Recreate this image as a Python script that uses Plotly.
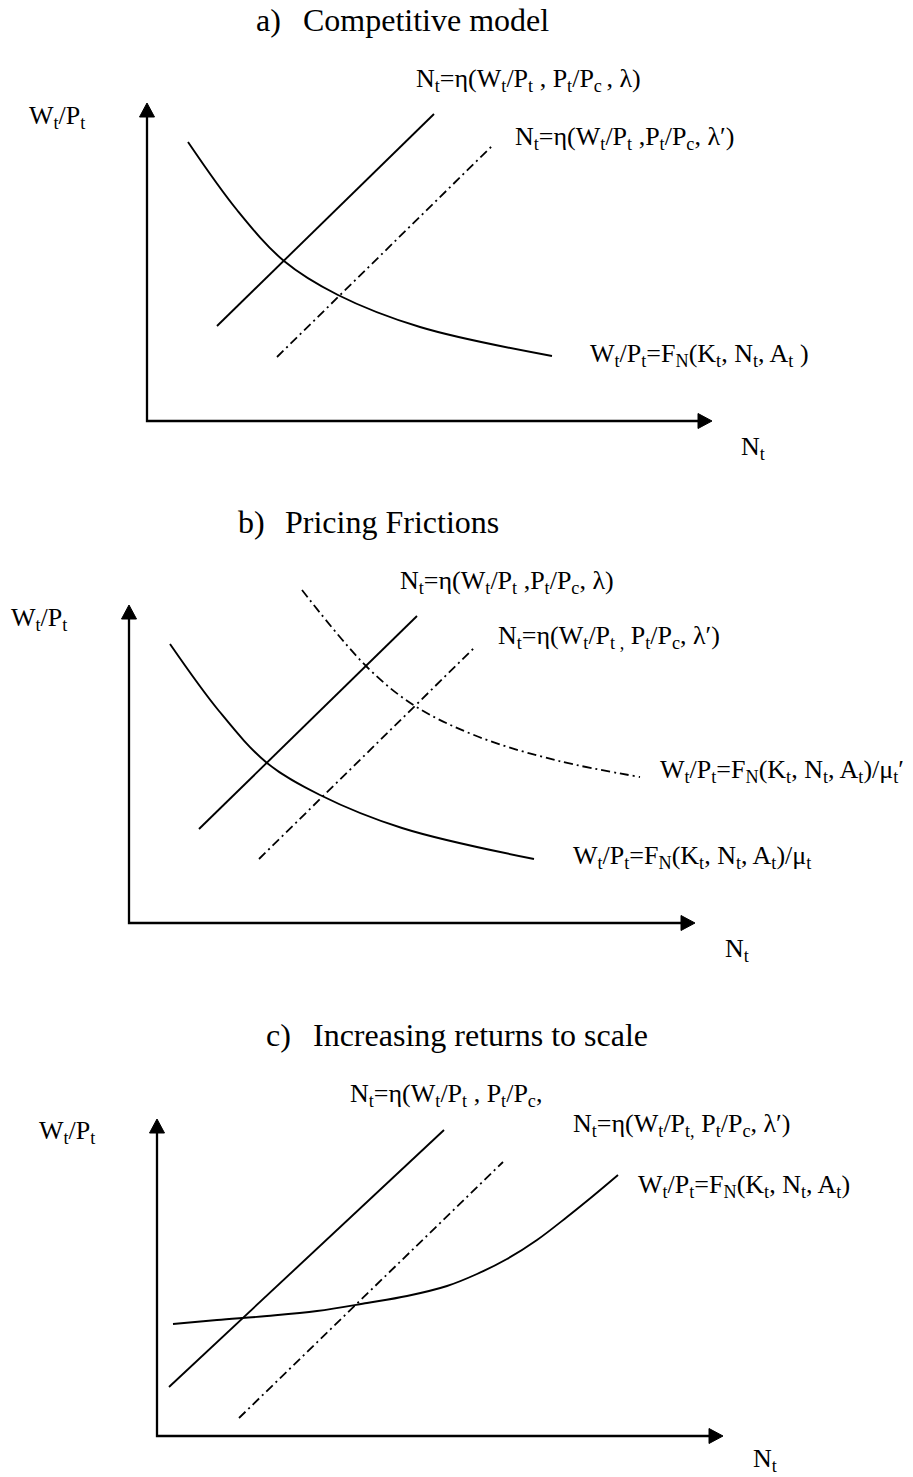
import plotly.graph_objects as go

# ---------------- data (panel-relative units: N to the right, W upward, origin at axis corner) -------------
# Panel a) Competitive model
A_FN_N = [41, 90, 137, 191, 273, 405]
A_FN_W = [279, 211, 160, 126, 94, 65]
A_ETA_N = [70, 287]
A_ETA_W = [95, 307]
A_ETA2_N = [130, 346]
A_ETA2_W = [64, 276]

# Panel b) Pricing Frictions
B_FN_N = [41, 90, 138, 191, 273, 405]
B_FN_W = [279, 212, 160, 128, 95, 64]
B_MU2_N = [173, 238, 286, 350, 430, 511]
B_MU2_W = [333, 256, 217, 186, 162, 146]
B_ETA_N = [70, 288]
B_ETA_W = [94, 307]
B_ETA2_N = [130, 346]
B_ETA2_W = [64, 276]

# Panel c) Increasing returns to scale
C_FN_N = [16, 60, 110, 160, 210, 250, 290, 320, 350, 380, 410, 436, 461]
C_FN_W = [112, 116, 120, 125, 133, 140, 150, 162, 177, 196, 219, 240, 261]
C_ETA_N = [12, 287]
C_ETA_W = [49, 306]
C_ETA2_N = [82, 346]
C_ETA2_W = [18, 274]

# axis extents (N tip, W tip)
AXIS_TIP_N = [565, 566, 566]
AXIS_TIP_W = [318, 318, 317]

# text
TITLE_TAGS = ["a)", "b)", "c)"]
TITLES = ["Competitive model", "Pricing Frictions", "Increasing returns to scale"]
Y_LABEL = "W<sub>t</sub>/P<sub>t</sub>"
X_LABEL = "N<sub>t</sub>"
A_LABELS = [
    "N<sub>t</sub>=η(W<sub>t</sub>/P<sub>t</sub> , P<sub>t</sub>/P<sub>c </sub>, λ)",
    "N<sub>t</sub>=η(W<sub>t</sub>/P<sub>t</sub> ,P<sub>t</sub>/P<sub>c</sub>, λ′)",
    "W<sub>t</sub>/P<sub>t</sub>=F<sub>N</sub>(K<sub>t</sub>, N<sub>t</sub>, A<sub>t</sub> )",
]
B_LABELS = [
    "N<sub>t</sub>=η(W<sub>t</sub>/P<sub>t</sub> ,P<sub>t</sub>/P<sub>c</sub>, λ)",
    "N<sub>t</sub>=η(W<sub>t</sub>/P<sub>t ,</sub> P<sub>t</sub>/P<sub>c</sub>, λ′)",
    "W<sub>t</sub>/P<sub>t</sub>=F<sub>N</sub>(K<sub>t</sub>, N<sub>t</sub>, A<sub>t</sub>)/μ<sub>t</sub>′",
    "W<sub>t</sub>/P<sub>t</sub>=F<sub>N</sub>(K<sub>t</sub>, N<sub>t</sub>, A<sub>t</sub>)/μ<sub>t</sub>",
]
C_LABELS = [
    "N<sub>t</sub>=η(W<sub>t</sub>/P<sub>t</sub> , P<sub>t</sub>/P<sub>c</sub>,",
    "N<sub>t</sub>=η(W<sub>t</sub>/P<sub>t,</sub> P<sub>t</sub>/P<sub>c</sub>, λ′)",
    "W<sub>t</sub>/P<sub>t</sub>=F<sub>N</sub>(K<sub>t</sub>, N<sub>t</sub>, A<sub>t</sub>)",
]
# label anchor positions (N, W) in panel units
A_LABEL_POS = [(268, 341), (367, 283), (442, 66)]
B_LABEL_POS = [(270, 341), (368, 286), (530, 152), (443, 66)]
C_LABEL_POS = [(192, 341), (415, 311), (480, 250)]
Y_LABEL_POS = (-119, 304)
X_LABEL_POS = [(593, -27), (595, -27), (595, -24)]

# ---------------- layout geometry ----------------
W_PX, H_PX = 913, 1477
ORIGINS = [(147, 421), (129, 923), (157, 1436)]   # pixel position of axis corner
BANDS = [(0, 470), (470, 975), (975, 1477)]       # vertical pixel band of each panel
FONT = "Liberation Serif"
LABEL_SIZE = 26
TITLE_SIZE = 32
LW = 1.9
AXW = 2.3
DW = 1.8
DASHDOT = "9px,4px,2px,4px"
HEAD_L, HEAD_W = 14, 15

fig = go.Figure()
layout = dict(width=W_PX, height=H_PX, margin=dict(l=0, r=0, t=0, b=0),
              paper_bgcolor="white", plot_bgcolor="white", showlegend=False,
              annotations=[])

def ax_names(i):
    s = "" if i == 0 else str(i + 1)
    return "x" + s, "y" + s, "xaxis" + s, "yaxis" + s

def line(i, xs, ys, dash=None, shape="linear", width=LW):
    xr, yr, _, _ = ax_names(i)
    fig.add_trace(go.Scatter(x=xs, y=ys, mode="lines", xaxis=xr, yaxis=yr,
                             line=dict(color="black", width=width, dash=dash, shape=shape, smoothing=1.0),
                             hoverinfo="skip"))

def text(i, x, y, s, size=LABEL_SIZE, anchor="left"):
    xr, yr, _, _ = ax_names(i)
    layout["annotations"].append(dict(x=x, y=y, xref=xr, yref=yr, text=s, showarrow=False,
                                      xanchor=anchor, yanchor="middle", borderpad=0,
                                      font=dict(family=FONT, size=size, color="black")))

for i in range(3):
    xr, yr, xa, ya = ax_names(i)
    ox, oy = ORIGINS[i]
    top, bot = BANDS[i]
    layout[xa] = dict(domain=[0, 1], range=[-ox, W_PX - ox], visible=False, fixedrange=True)
    layout[ya] = dict(domain=[1 - bot / H_PX, 1 - top / H_PX], range=[oy - bot, oy - top],
                      visible=False, fixedrange=True)
    if i > 0:
        layout[xa]["anchor"] = yr
        layout[ya]["anchor"] = xr
    tn, tw = AXIS_TIP_N[i], AXIS_TIP_W[i]
    # axes
    line(i, [0, 0, tn - HEAD_L + 1], [tw - HEAD_L + 1, 0, 0], width=AXW)
    # arrow heads
    fig.add_trace(go.Scatter(x=[-HEAD_W / 2, HEAD_W / 2, 0, -HEAD_W / 2],
                             y=[tw - HEAD_L, tw - HEAD_L, tw, tw - HEAD_L],
                             mode="lines", fill="toself", fillcolor="black",
                             line=dict(color="black", width=1), xaxis=xr, yaxis=yr, hoverinfo="skip"))
    fig.add_trace(go.Scatter(x=[tn - HEAD_L, tn - HEAD_L, tn, tn - HEAD_L],
                             y=[-HEAD_W / 2, HEAD_W / 2, 0, -HEAD_W / 2],
                             mode="lines", fill="toself", fillcolor="black",
                             line=dict(color="black", width=1), xaxis=xr, yaxis=yr, hoverinfo="skip"))
    # axis labels and titles
    text(i, Y_LABEL_POS[0], Y_LABEL_POS[1], Y_LABEL)
    text(i, X_LABEL_POS[i][0], X_LABEL_POS[i][1], X_LABEL)
    text(i, 108, 401, TITLE_TAGS[i], size=TITLE_SIZE)
    text(i, 155, 401, TITLES[i], size=TITLE_SIZE)

# panel a
line(0, A_FN_N, A_FN_W, shape="spline")
line(0, A_ETA_N, A_ETA_W)
line(0, A_ETA2_N, A_ETA2_W, dash=DASHDOT, width=DW)
for (n, w), s in zip(A_LABEL_POS, A_LABELS):
    text(0, n, w, s)

# panel b
line(1, B_FN_N, B_FN_W, shape="spline")
line(1, B_MU2_N, B_MU2_W, dash=DASHDOT, shape="spline", width=DW)
line(1, B_ETA_N, B_ETA_W)
line(1, B_ETA2_N, B_ETA2_W, dash=DASHDOT, width=DW)
for (n, w), s in zip(B_LABEL_POS, B_LABELS):
    text(1, n, w, s)

# panel c
line(2, C_FN_N, C_FN_W, shape="spline")
line(2, C_ETA_N, C_ETA_W)
line(2, C_ETA2_N, C_ETA2_W, dash=DASHDOT, width=DW)
for (n, w), s in zip(C_LABEL_POS, C_LABELS):
    text(2, n, w, s)

fig.update_layout(**layout)
fig.write_html("out.html", config={"displayModeBar": False})
